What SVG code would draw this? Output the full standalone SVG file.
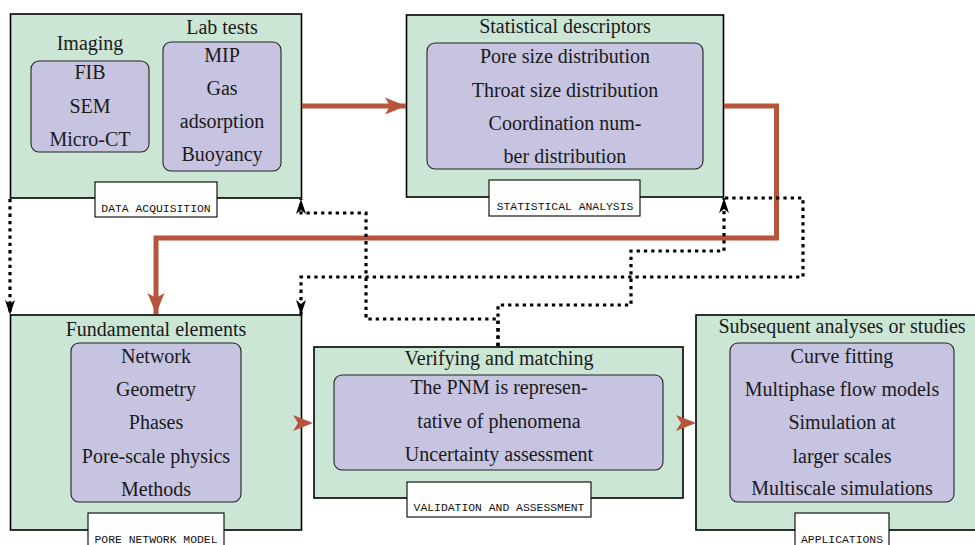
<svg xmlns="http://www.w3.org/2000/svg" width="975" height="545" viewBox="0 0 975 545">
<style>
.outer{fill:#cce6d5;stroke:#000;stroke-width:1.6}
.inner{fill:#c6c4e1;stroke:#222;stroke-width:1.1}
.lab{fill:#fff;stroke:#000;stroke-width:1.1}
.t{font-family:"Liberation Serif","Times New Roman",serif;font-size:20px;fill:#1a1a1a;text-anchor:middle}
.m{font-family:"Liberation Mono","Courier New",monospace;font-size:11.4px;fill:#111;text-anchor:middle}
.red{fill:none;stroke:#b8543c;stroke-width:5}
.dot{fill:none;stroke:#000;stroke-width:3.2;stroke-dasharray:3.3 4}
</style>
<defs>
<marker id="ah" viewBox="-16 -6 17 12" refX="0" refY="0" markerWidth="17" markerHeight="12" markerUnits="userSpaceOnUse" orient="auto">
<path d="M0,0 L-15,-5 L-11,0 L-15,5 Z" fill="#000"/>
</marker>
<marker id="rh" viewBox="-22 -10 23 20" refX="0" refY="0" markerWidth="23" markerHeight="20" markerUnits="userSpaceOnUse" orient="auto">
<path d="M0,0 L-21,-8.5 L-16,0 L-21,8.5 Z" fill="#b8543c"/>
</marker>
<path id="rhead" d="M0,0 L-20,-8 L-15,0 L-20,8 Z" fill="#b8543c"/>
</defs>

<g id="data-acquisition">
<rect class="outer" x="10.5" y="14" width="291" height="184"/>
<text class="t" x="90" y="50">Imaging</text>
<text class="t" x="222" y="34">Lab tests</text>
<rect class="inner" x="31" y="61" width="118" height="91" rx="8"/>
<text class="t" x="90" y="79">FIB</text>
<text class="t" x="90" y="113">SEM</text>
<text class="t" x="90" y="146">Micro-CT</text>
<rect class="inner" x="163" y="42" width="118" height="129" rx="8"/>
<text class="t" x="222" y="62">MIP</text>
<text class="t" x="222" y="95">Gas</text>
<text class="t" x="222" y="128">adsorption</text>
<text class="t" x="222" y="161">Buoyancy</text>
<rect class="lab" x="95" y="182" width="122" height="35"/>
<text class="m" x="156" y="212">DATA ACQUISITION</text>
</g>

<g id="statistical-analysis">
<rect class="outer" x="406.5" y="15" width="317" height="182"/>
<text class="t" x="565" y="33">Statistical descriptors</text>
<rect class="inner" x="427" y="43" width="276" height="126" rx="8"/>
<text class="t" x="565" y="63">Pore size distribution</text>
<text class="t" x="565" y="97">Throat size distribution</text>
<text class="t" x="565" y="130">Coordination num-</text>
<text class="t" x="565" y="163">ber distribution</text>
<rect class="lab" x="489" y="180" width="151" height="36"/>
<text class="m" x="565" y="210">STATISTICAL ANALYSIS</text>
</g>

<g id="pore-network-model">
<rect class="outer" x="10.5" y="315" width="291" height="215"/>
<text class="t" x="156" y="336">Fundamental elements</text>
<rect class="inner" x="71" y="343" width="170" height="159" rx="8"/>
<text class="t" x="156" y="363">Network</text>
<text class="t" x="156" y="396">Geometry</text>
<text class="t" x="156" y="429">Phases</text>
<text class="t" x="156" y="463">Pore-scale physics</text>
<text class="t" x="156" y="496">Methods</text>
<rect class="lab" x="88" y="513" width="136" height="40"/>
<text class="m" x="156" y="543">PORE NETWORK MODEL</text>
</g>

<g id="validation-and-assessment">
<rect class="outer" x="314" y="347" width="369" height="151"/>
<text class="t" x="499" y="365">Verifying and matching</text>
<rect class="inner" x="334" y="375" width="329" height="95" rx="8"/>
<text class="t" x="499" y="394">The PNM is represen-</text>
<text class="t" x="499" y="428">tative of phenomena</text>
<text class="t" x="499" y="461">Uncertainty assessment</text>
<rect class="lab" x="407" y="482" width="184" height="35"/>
<text class="m" x="499" y="511">VALIDATION AND ASSESSMENT</text>
</g>

<g id="applications">
<rect class="outer" x="696" y="315" width="290" height="215"/>
<text class="t" x="842" y="333">Subsequent analyses or studies</text>
<rect class="inner" x="730" y="343" width="224" height="159" rx="8"/>
<text class="t" x="842" y="363">Curve fitting</text>
<text class="t" x="842" y="396">Multiphase flow models</text>
<text class="t" x="842" y="429">Simulation at</text>
<text class="t" x="842" y="463">larger scales</text>
<text class="t" x="842" y="495">Multiscale simulations</text>
<rect class="lab" x="795" y="513" width="94" height="40"/>
<text class="m" x="842" y="543">APPLICATIONS</text>
</g>

<g id="connectors">
<path class="red" d="M302,106 H406" marker-end="url(#rh)"/>
<path class="red" d="M724,106 H776.5 V238 H156 V314" marker-end="url(#rh)"/>
<use href="#rhead" x="313" y="423"/>
<use href="#rhead" x="696" y="423"/>
<path class="dot" d="M10,199 V315" marker-end="url(#ah)"/>
<path class="dot" d="M498,346 V319 H366 V213 H301 V199" marker-end="url(#ah)"/>
<path class="dot" d="M498,346 V305 H631 V251 H724 V198" marker-end="url(#ah)"/>
<path class="dot" d="M725,198 H803 V277 H301 V315" marker-end="url(#ah)"/>
</g>
</svg>
